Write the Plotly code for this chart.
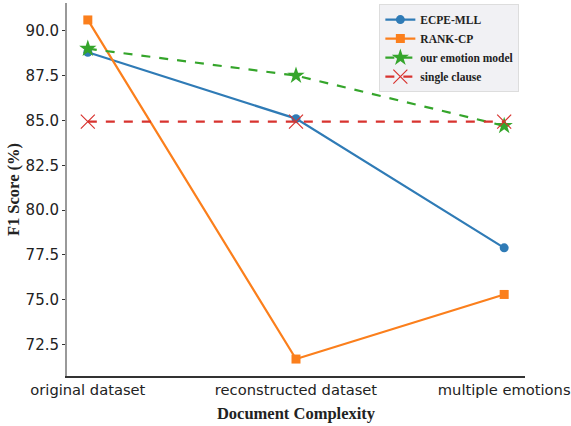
import plotly.graph_objects as go

categories = ["original dataset", "reconstructed dataset", "multiple emotions"]
ecpe_mll = [88.8, 85.1, 77.9]
rank_cp = [90.6, 71.7, 75.3]
our_model = [89.0, 87.5, 84.7]
single_clause = [84.93, 84.93, 84.93]
y_ticks = [72.5, 75.0, 77.5, 80.0, 82.5, 85.0, 87.5, 90.0]

xi = list(range(len(categories)))

fig = go.Figure()
fig.add_trace(go.Scatter(x=xi, y=ecpe_mll, name="ECPE-MLL", mode="lines+markers",
                         line=dict(color="#2f7bb6", width=2.2),
                         marker=dict(symbol="circle", size=9, color="#2f7bb6")))
fig.add_trace(go.Scatter(x=xi, y=rank_cp, name="RANK-CP", mode="lines+markers",
                         line=dict(color="#fb7f1c", width=2.2),
                         marker=dict(symbol="square", size=9, color="#fb7f1c")))
fig.add_trace(go.Scatter(x=xi, y=our_model, name="our emotion model", mode="lines+markers",
                         line=dict(color="#35a52b", width=2.2, dash="dash"),
                         marker=dict(symbol="star", size=13, color="#35a52b")))
fig.add_trace(go.Scatter(x=xi, y=single_clause, name="single clause", mode="lines+markers",
                         line=dict(color="#d8332f", width=2.2, dash="dash"),
                         marker=dict(symbol="x-thin-open", size=14, color="#d8332f",
                                     line=dict(width=1.2, color="#d8332f"))))

fig.update_layout(
    width=571, height=426,
    margin=dict(l=67, r=46, t=3, b=50),
    plot_bgcolor="white", paper_bgcolor="white",
    font=dict(family="DejaVu Sans", size=14, color="#222222"),
    xaxis=dict(range=[-0.1, 2.1], tickmode="array", tickvals=xi, ticktext=categories,
               tickfont=dict(size=14.7),
               showgrid=False, zeroline=False, showline=True, linecolor="#333333", linewidth=1.5,
               ticks="", ticklen=0, automargin=False,
               title=dict(text="Document Complexity", standoff=10,
                          font=dict(family="Liberation Serif", size=16.5, weight="bold", color="#222222"))),
    yaxis=dict(range=[70.755, 91.545], tickmode="array", tickvals=y_ticks,
               ticktext=[f"{v:.1f}" for v in y_ticks], tickfont=dict(size=15),
               showgrid=False, zeroline=False, showline=True, linecolor="#999999", linewidth=2,
               ticks="outside", ticklen=3, tickcolor="#333333", automargin=False,
               title=dict(text="F1 Score (%)", standoff=2,
                          font=dict(family="Liberation Serif", size=16.5, weight="bold", color="#222222"))),
    legend=dict(x=0.682, y=0.997, xanchor="left", yanchor="top",
                bgcolor="rgba(240,240,243,0.9)", bordercolor="#dddddd", borderwidth=1,
                font=dict(family="Liberation Serif", size=11.5, weight="bold", color="#222222"),
                itemwidth=30, tracegroupgap=0),
    showlegend=True,
)

fig.write_html("out.html", config={"displayModeBar": False},
               post_script="document.body.style.margin='0';document.body.style.padding='0';")
